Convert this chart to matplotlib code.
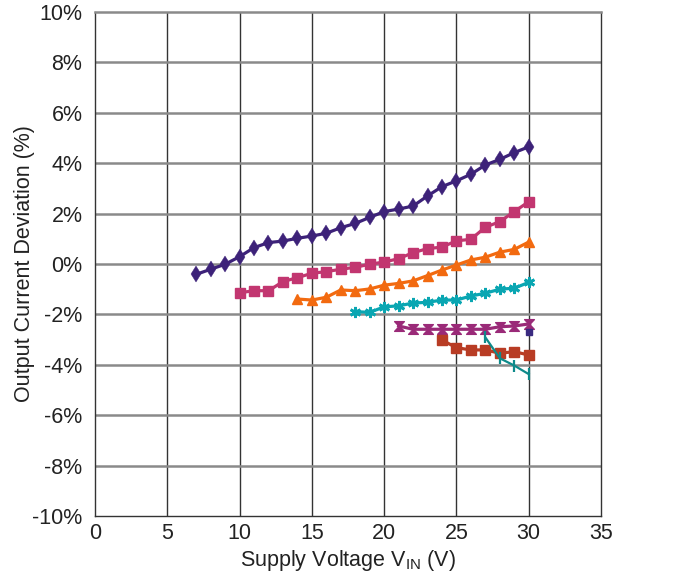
import matplotlib
matplotlib.use("Agg")
import matplotlib.pyplot as plt
from matplotlib.path import Path
from matplotlib.ticker import FuncFormatter

plt.rcParams['font.family'] = ['Liberation Sans', 'DejaVu Sans']

# Data (x: supply voltage in V, y: output current deviation in %)
x1 = list(range(7, 31))
y1 = [-0.41, -0.21, -0.01, 0.29, 0.65, 0.85, 0.91, 1.02, 1.11, 1.22, 1.44, 1.61,
      1.85, 2.08, 2.18, 2.30, 2.70, 3.07, 3.30, 3.56, 3.93, 4.15, 4.42, 4.65]

x2 = list(range(10, 31))
y2 = [-1.14, -1.06, -1.06, -0.70, -0.54, -0.37, -0.30, -0.21, -0.13, -0.01, 0.08,
      0.21, 0.45, 0.61, 0.67, 0.92, 0.98, 1.46, 1.68, 2.08, 2.47]

x3 = list(range(14, 31))
y3 = [-1.39, -1.43, -1.32, -1.03, -1.06, -0.99, -0.84, -0.77, -0.67, -0.46, -0.24,
      -0.04, 0.16, 0.27, 0.47, 0.58, 0.87]

x4 = list(range(18, 31))
y4 = [-1.89, -1.92, -1.70, -1.66, -1.55, -1.52, -1.43, -1.43, -1.27, -1.16, -1.00,
      -0.96, -0.73]

x5 = list(range(21, 31))
y5 = [-2.46, -2.59, -2.59, -2.59, -2.59, -2.59, -2.59, -2.49, -2.46, -2.38]

x6 = list(range(24, 31))
y6 = [-3.02, -3.32, -3.41, -3.41, -3.54, -3.48, -3.61]

x7 = [27, 28, 29, 30]
y7 = [-2.91, -3.74, -4.03, -4.37]

x8 = [30]
y8 = [-2.71]

xticks = [0, 5, 10, 15, 20, 25, 30, 35]
yticks = [-10, -8, -6, -4, -2, 0, 2, 4, 6, 8, 10]

hourglass = Path([(-1, 1), (1, 1), (0.25, 0.2), (0.25, -0.2), (1, -1), (-1, -1),
                  (-0.25, -0.2), (-0.25, 0.2), (-1, 1)],
                 [Path.MOVETO] + [Path.LINETO] * 7 + [Path.CLOSEPOLY])

fig = plt.figure(figsize=(6.77, 5.77), dpi=100)
ax = fig.add_axes([95 / 677, 61 / 577, 506 / 677, 504 / 577])

ax.set_xlim(0, 35)
ax.set_ylim(-10, 10)
ax.set_xticks(xticks)
ax.set_yticks(yticks)
ax.yaxis.set_major_formatter(FuncFormatter(lambda v, p: f"{int(v)}%"))
ax.tick_params(length=0, labelsize=15.5, colors='#222222')
ax.tick_params(axis='y', pad=9)
ax.tick_params(axis='x', pad=5)

for xv in xticks[1:-1]:
    ax.axvline(xv, color='#333333', lw=1.0, zorder=1)
for yv in yticks[1:-1]:
    ax.axhline(yv, color='#8a8a8a', lw=1.8, zorder=1)

for sp in ['left', 'bottom', 'right']:
    ax.spines[sp].set_color('#333333')
    ax.spines[sp].set_linewidth(1.0)
ax.spines['top'].set_color('#8a8a8a')
ax.spines['top'].set_linewidth(1.8)

ax.plot(x1, y1, color='#3d2279', lw=2.3, marker='d', ms=8, mew=0.3, zorder=3)
ax.plot(x2, y2, color='#c23670', lw=2.3, marker='s', ms=7, zorder=3)
ax.plot(x3, y3, color='#f26a10', lw=2.3, marker='^', ms=7, zorder=3)
ax.plot(x4, y4, color='#0aa6b2', lw=2.3, marker=(6, 2, 0), ms=8, mew=2, zorder=3)
ax.plot(x5, y5, color='#9a2a78', lw=2.3, marker=hourglass, ms=7, zorder=3)
ax.plot(x6, y6, color='#b83c24', lw=2.3, marker='s', ms=7, zorder=3)
ax.plot(x7, y7, color='#0e8a8a', lw=1.6, marker='|', ms=8, mew=1.6, zorder=3)
ax.plot(x8, y8, color='#3a2a80', lw=0, marker='s', ms=5, zorder=3)

ax.set_xlabel('Supply Voltage V$_{\\mathregular{IN}}$ (V)', fontsize=15.5, color='#222222', labelpad=3)
ax.set_ylabel('Output Current Deviation (%)', fontsize=15.5, color='#222222', labelpad=-2)

fig.savefig('out.png', dpi=100)
